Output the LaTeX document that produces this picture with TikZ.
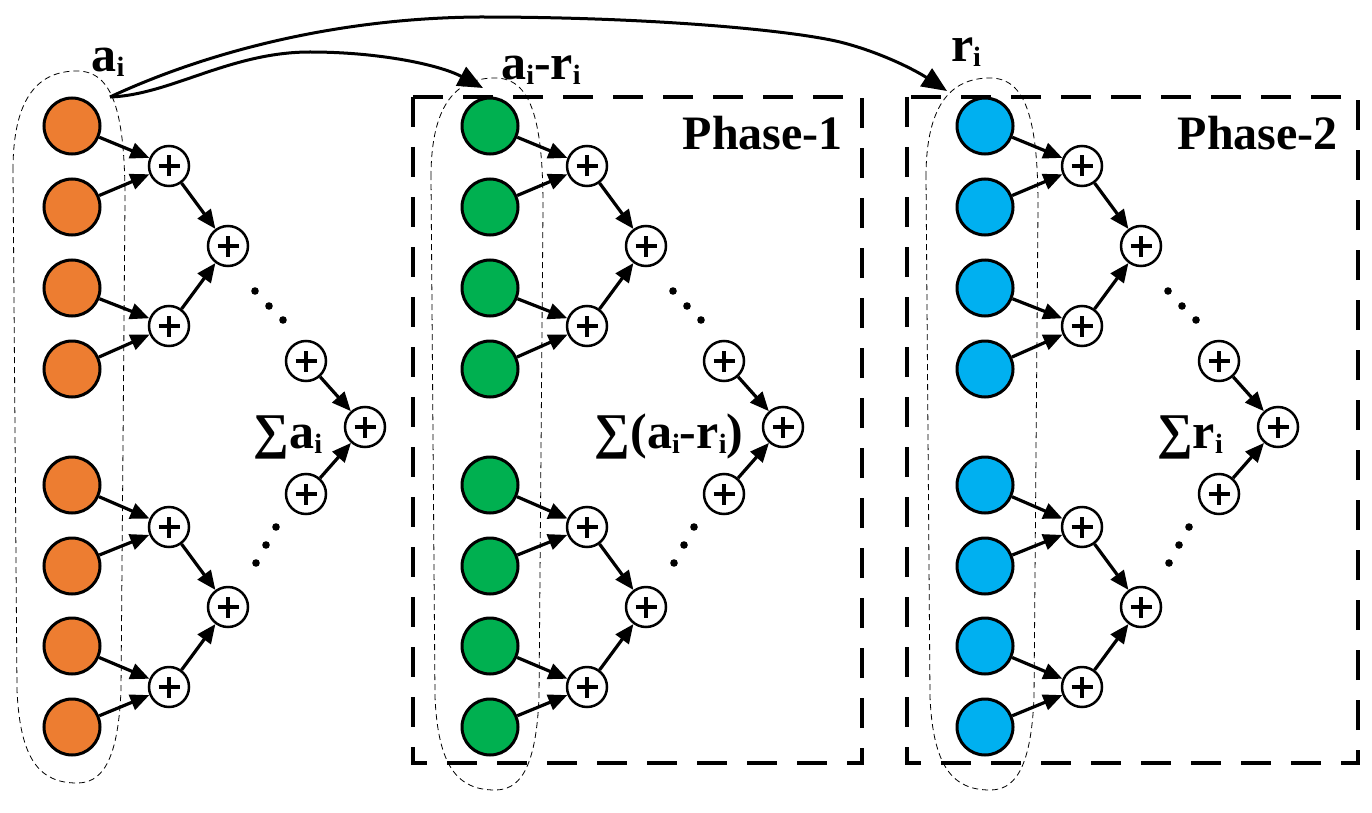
\documentclass[tikz,border=0pt]{standalone}
\usepackage{fontspec}
\setmainfont{Liberation Serif}
\usetikzlibrary{arrows.meta}
\definecolor{inorange}{HTML}{ED7D31}
\definecolor{ingreen}{HTML}{00B050}
\definecolor{inblue}{HTML}{00B0F0}
\newcommand{\subi}{\raisebox{-5pt}{\fontsize{28}{28}\selectfont i}}

\begin{document}
\begin{tikzpicture}[x=1pt, y=-1pt, >={Triangle[length=19pt,width=16pt]},
  in node/.style={circle,draw,line width=3pt,minimum size=56pt,inner sep=0pt},
  add node/.style={circle,draw,line width=2.5pt,fill=white,minimum size=40pt,inner sep=0pt,
    path picture={\draw[line width=4pt] (path picture bounding box.center) ++(-10.5pt,0) -- ++(21pt,0);
                  \draw[line width=4pt] (path picture bounding box.center) ++(0,-10.5pt) -- ++(0,21pt);}},
  link/.style={->,line width=3.2pt},
  jump/.style={-{Triangle[length=25pt,width=21pt]},line width=3pt},
  phase box/.style={draw,line width=4pt,dash pattern=on 30pt off 20pt},
  group loop/.style={draw,line width=0.8pt,dash pattern=on 6pt off 4pt},
  lbl/.style={font=\bfseries\fontsize{50}{50}\selectfont,inner sep=0pt,anchor=base},
  phase lbl/.style={font=\bfseries\fontsize{48}{48}\selectfont,inner sep=0pt,anchor=base east}]
\useasboundingbox (0,0) rectangle (1372,813);

% phase frames
\draw[phase box] (413,97) rectangle (862,763);
\draw[phase box] (907,97) rectangle (1358,763);
\node[phase lbl] (ph1) at (843,150) {Phase-1};
\node[phase lbl] (ph2) at (1338,150) {Phase-2};

% three adder trees
\foreach \p/\dx/\dy/\col in {A/0/0/inorange, D/418/7/ingreen, R/913/7/inblue} {
\begin{scope}[xshift=\dx pt]
\draw[group loop] (13,170+\dy) .. controls (13,95+\dy) and (40,71+\dy) .. (77,71+\dy)
  .. controls (112,71+\dy) and (125,110+\dy) .. (125,200+\dy) -- (121,690+\dy)
  .. controls (118,765+\dy) and (100,783+\dy) .. (77,783+\dy)
  .. controls (40,783+\dy) and (20,760+\dy) .. (17,690+\dy) -- cycle;
\foreach \i/\y in {1/126,2/207,3/288,4/369,5/485,6/566,7/646,8/727}
  \node[in node,fill=\col] (\p-x\i) at (72,\y) {};
\node[add node] (\p-s1) at (169,166) {};
\node[add node] (\p-s2) at (169,326) {};
\node[add node] (\p-s3) at (169,527) {};
\node[add node] (\p-s4) at (169,687) {};
\node[add node] (\p-t1) at (228,246) {};
\node[add node] (\p-t2) at (228,607) {};
\node[add node] (\p-u1) at (306,361) {};
\node[add node] (\p-u2) at (306,494) {};
\node[add node] (\p-f) at (365,427) {};
\draw[link] (\p-x1) -- (\p-s1);
\draw[link] (\p-x2) -- (\p-s1);
\draw[link] (\p-x3) -- (\p-s2);
\draw[link] (\p-x4) -- (\p-s2);
\draw[link] (\p-x5) -- (\p-s3);
\draw[link] (\p-x6) -- (\p-s3);
\draw[link] (\p-x7) -- (\p-s4);
\draw[link] (\p-x8) -- (\p-s4);
\draw[link] (\p-s1) -- (\p-t1);
\draw[link] (\p-s2) -- (\p-t1);
\draw[link] (\p-s3) -- (\p-t2);
\draw[link] (\p-s4) -- (\p-t2);
\draw[link] (\p-u1) -- (\p-f);
\draw[link] (\p-u2) -- (\p-f);
% dots
\foreach \x/\y in {255/291,269/306,283/320,256/563,266/545,276/527}
  \fill (\x,\y) circle (3.8pt);
\end{scope}
}

% labels
\node[lbl] (labA) at (108,72) {a\subi};
\node[lbl] (labD) at (541,80) {a\subi-r\subi};
\node[lbl] (labR) at (966,62) {r\subi};
\node[lbl] (sumA) at (288,448) {∑a\subi};
\node[lbl] (sumD) at (669,448) {∑(a\subi-r\subi)};
\node[lbl] (sumR) at (1190,448) {∑r\subi};

% transfer arrows
\coordinate (srcA) at (110,97);
\coordinate (tipD) at (483,88);
\coordinate (tipR) at (947,91);
\draw[jump] (srcA) .. controls (170,95) and (230,52) .. (310,52) .. controls (380,52) and (440,65) .. (tipD);
\draw[jump] (srcA) .. controls (200,55) and (330,18) .. (480,17) .. controls (650,17) and (790,30) .. (840,42) .. controls (880,52) and (915,70) .. (tipR);
\end{tikzpicture}
\end{document}
